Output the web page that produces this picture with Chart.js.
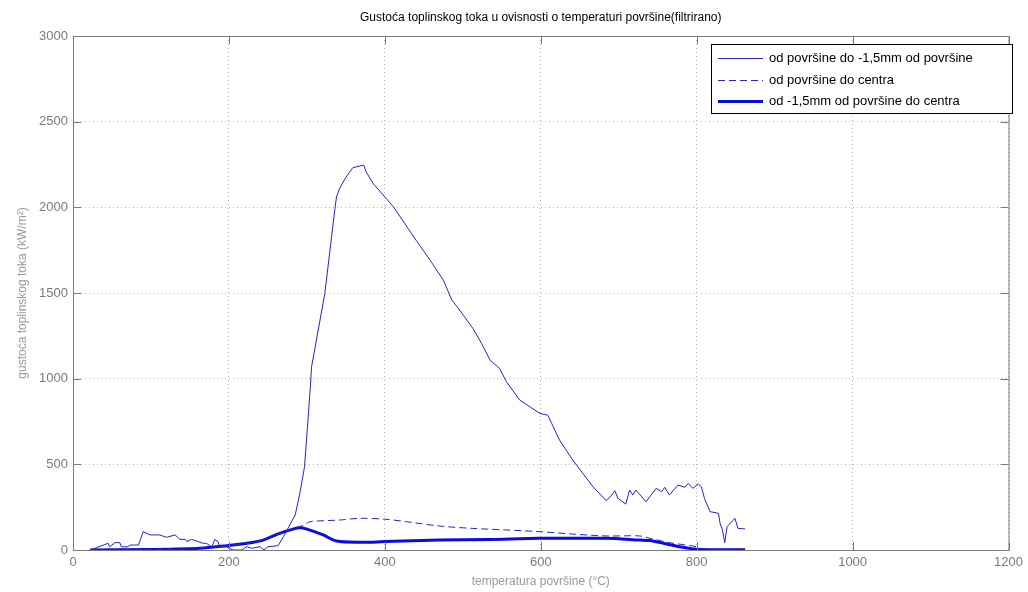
<!DOCTYPE html>
<html>
<head>
<meta charset="utf-8">
<script src="https://cdn.jsdelivr.net/npm/chart.js@4"></script>
<style>
  html, body { margin:0; padding:0; background:#fff; }
  #wrap { width:1028px; height:592px; position:relative; }
</style>
</head>
<body>
<div id="wrap"><canvas id="ch"></canvas></div>
<script>
// ── data (temperature °C, heat flux kW/m²) ──────────────────────────────────
const thinT  = [22,45,47,54,60,62,71,73,84,90,99,111,120,131,137,144,146,152,167,171,178,182,186,188,197,205,216,223,229,240,245,250,263,270,278,285,291,297,302,305,306,323,336,338,342,349,355,359,373,376,385,411,440,458,475,486,496,513,524,535,547,556,573,599,609,614,624,641,667,684,691,695,699,709,714,718,722,735,748,755,759,765,776,785,789,795,802,806,810,817,828,830,833,836,839,849,853,862];
const thinQ  = [0,39,19,43,43,19,19,29,29,107,88,88,74,88,62,62,49,62,39,39,19,62,49,19,19,0,0,19,10,19,0,19,25,78,146,204,331,486,797,992,1069,1497,1993,2061,2110,2168,2207,2232,2246,2207,2139,2003,1808,1692,1575,1458,1400,1293,1206,1108,1060,982,875,797,787,739,642,525,369,288,321,346,301,268,350,321,350,282,360,340,366,321,379,366,389,360,385,369,301,224,214,155,117,43,136,185,126,123];

const dashT  = [22,100,160,197,223,244,265,282,297,304,342,368,400,428,470,513,556,599,641,684,727,740,765,800,806,862];
const dashQ  = [0,3,10,25,39,58,97,125,146,165,175,185,180,165,140,126,117,107,93,82,82,68,43,19,5,5];

const thickT = [22,100,163,197,223,244,265,282,291,300,321,338,368,400,470,535,599,684,727,740,778,804,862];
const thickQ = [0,3,10,25,39,58,97,122,130,122,88,52,45,49,58,62,68,68,58,55,19,3,2];

const labels = ['od površine do -1,5mm od površine', 'od površine do centra', 'od -1,5mm od površine do centra'];
const xTicks = [0,200,400,600,800,1000,1200];
const yTicks = [0,500,1000,1500,2000,2500,3000];

const pts = (xs, ys) => xs.map((x,i) => ({ x, y: ys[i] }));

const AXIS = '#7a7a7a';
const FONT = 'Arial, "Liberation Sans", sans-serif';

// frame, title and in-plot legend (MATLAB style)
const matlabBits = {
  id: 'matlabBits',
  afterDraw(chart) {
    const { ctx, chartArea: a } = chart;
    ctx.save();
    ctx.strokeStyle = AXIS; ctx.lineWidth = 1; ctx.setLineDash([]);
    ctx.strokeRect(a.left + 0.5, a.top + 0.5, a.right - a.left, a.bottom - a.top);
    // inward ticks
    const xs = chart.scales.x, ys = chart.scales.y;
    xTicks.forEach(v => { const px = Math.round(xs.getPixelForValue(v)) + 0.5;
      ctx.beginPath(); ctx.moveTo(px, a.bottom); ctx.lineTo(px, a.bottom - 8);
      ctx.moveTo(px, a.top); ctx.lineTo(px, a.top + 8); ctx.stroke(); });
    yTicks.forEach(v => { const py = Math.round(ys.getPixelForValue(v)) + 0.5;
      ctx.beginPath(); ctx.moveTo(a.left, py); ctx.lineTo(a.left + 8, py);
      ctx.moveTo(a.right, py); ctx.lineTo(a.right - 8, py); ctx.stroke(); });

    // title
    ctx.fillStyle = '#000'; ctx.font = '12px ' + FONT;
    ctx.textAlign = 'center'; ctx.textBaseline = 'middle';
    ctx.fillText('Gustoća toplinskog toka u ovisnosti o temperaturi površine(filtrirano)', (a.left + a.right) / 2, 18);

    // legend
    const bx = 711, by = 44, bw = 301, bh = 69;
    ctx.fillStyle = '#fff'; ctx.fillRect(bx, by, bw, bh);
    ctx.strokeStyle = '#000'; ctx.strokeRect(bx + 0.5, by + 0.5, bw, bh);
    const rows = [58, 80, 101];
    chart.data.datasets.forEach((ds, i) => {
      ctx.strokeStyle = ds.borderColor; ctx.lineWidth = ds.borderWidth;
      ctx.setLineDash(ds.borderDash || []);
      ctx.beginPath(); ctx.moveTo(718, rows[i] + 0.5); ctx.lineTo(763, rows[i] + 0.5); ctx.stroke();
      ctx.setLineDash([]);
      ctx.fillStyle = '#000'; ctx.font = '13px ' + FONT;
      ctx.textAlign = 'left'; ctx.textBaseline = 'middle';
      ctx.fillText(ds.label, 769, rows[i]);
    });
    ctx.restore();
  }
};

new Chart(document.getElementById('ch'), {
  type: 'line',
  data: {
    datasets: [
      { label: labels[0], data: pts(thinT, thinQ),  borderColor: '#2626c4', borderWidth: 1, pointRadius: 0, tension: 0 },
      { label: labels[1], data: pts(dashT, dashQ),  borderColor: '#2626c4', borderWidth: 1, borderDash: [7,4], pointRadius: 0, tension: 0.3 },
      { label: labels[2], data: pts(thickT, thickQ), borderColor: '#0a0ae6', borderWidth: 3, pointRadius: 0, tension: 0.3 },
    ]
  },
  options: {
    responsive: true, maintainAspectRatio: false, animation: false,
    layout: { padding: { top: 36, right: 19, left: 0, bottom: 0 } },
    plugins: { legend: { display: false }, title: { display: false }, tooltip: { enabled: false } },
    scales: {
      x: {
        type: 'linear', min: 0, max: 1200,
        afterBuildTicks: s => { s.ticks = xTicks.map(v => ({ value: v })); },
        afterFit: s => { s.height = 42; },
        ticks: { color: AXIS, font: { family: FONT, size: 13 }, padding: 5, callback: v => String(v) },
        grid: { color: '#b4b4b4', drawTicks: false },
        border: { display: false, dash: [1,3] },
        title: { display: true, text: 'temperatura površine (°C)', color: '#999', font: { family: FONT, size: 12 }, padding: { top: 0, bottom: 3 } }
      },
      y: {
        min: 0, max: 3000,
        afterBuildTicks: s => { s.ticks = yTicks.map(v => ({ value: v })); },
        afterFit: s => { s.width = 73; },
        ticks: { color: AXIS, font: { family: FONT, size: 13 }, padding: 5, callback: v => String(v) },
        grid: { color: '#b4b4b4', drawTicks: false },
        border: { display: false, dash: [1,3] },
        title: { display: true, text: 'gustoća toplinskog toka (kW/m²)', color: '#999', font: { family: FONT, size: 12 }, padding: { top: 15, bottom: 0 } }
      }
    }
  },
  plugins: [matlabBits]
});
</script>
</body>
</html>
